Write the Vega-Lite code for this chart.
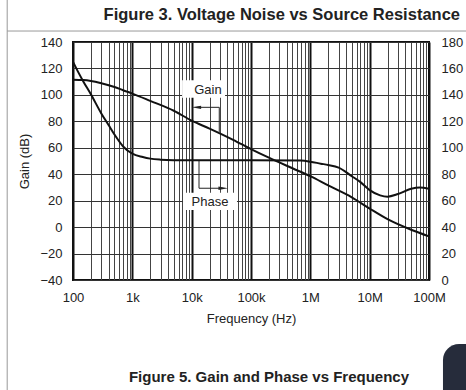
{
  "$schema": "https://vega.github.io/schema/vega-lite/v6.json",
  "width": 356,
  "height": 238,
  "autosize": "none",
  "padding": {"left": 73, "top": 42, "right": 37, "bottom": 110},
  "background": "white",
  "config": {
    "view": {"stroke": "#111", "strokeWidth": 2},
    "axis": {
      "labelFont": "Liberation Sans",
      "labelFontSize": 13,
      "labelColor": "#222",
      "titleFont": "Liberation Sans",
      "titleFontSize": 13,
      "titleFontWeight": "normal",
      "titleColor": "#222",
      "ticks": false,
      "domain": false,
      "gridColor": "#333",
      "gridOpacity": 1
    }
  },
  "datasets": {
    "gain": [
      {"f": 100, "v": 111.5}, {"f": 150, "v": 111.2}, {"f": 200, "v": 110.5},
      {"f": 300, "v": 108.8}, {"f": 500, "v": 106}, {"f": 700, "v": 103.5},
      {"f": 1000, "v": 101}, {"f": 2000, "v": 95.5}, {"f": 5000, "v": 88},
      {"f": 10000, "v": 80.5}, {"f": 20000, "v": 74.5}, {"f": 50000, "v": 66},
      {"f": 100000, "v": 59}, {"f": 200000, "v": 52.5}, {"f": 500000, "v": 44.5},
      {"f": 1000000, "v": 38.5}, {"f": 2000000, "v": 31.5}, {"f": 5000000, "v": 22.5},
      {"f": 10000000, "v": 14}, {"f": 20000000, "v": 6}, {"f": 50000000, "v": -2},
      {"f": 100000000, "v": -7}
    ],
    "phase": [
      {"f": 100, "p": 165}, {"f": 120, "p": 158}, {"f": 150, "p": 150},
      {"f": 200, "p": 140.5}, {"f": 300, "p": 126}, {"f": 400, "p": 117},
      {"f": 500, "p": 110}, {"f": 700, "p": 101}, {"f": 1000, "p": 95.5},
      {"f": 1500, "p": 93}, {"f": 2000, "p": 91.8}, {"f": 3000, "p": 91},
      {"f": 5000, "p": 90.6}, {"f": 10000, "p": 90.5}, {"f": 100000, "p": 90.5},
      {"f": 700000, "p": 90.3}, {"f": 1000000, "p": 89.5}, {"f": 1500000, "p": 88},
      {"f": 2000000, "p": 87}, {"f": 3000000, "p": 85}, {"f": 5000000, "p": 78.5},
      {"f": 7000000, "p": 74}, {"f": 10000000, "p": 68}, {"f": 15000000, "p": 64},
      {"f": 20000000, "p": 63}, {"f": 30000000, "p": 65}, {"f": 50000000, "p": 69},
      {"f": 70000000, "p": 70}, {"f": 100000000, "p": 69}
    ],
    "arrows": [
      {"arrow": "gain", "i": 1, "f": 29200, "v": 72},
      {"arrow": "gain", "i": 2, "f": 29200, "v": 90.6},
      {"arrow": "gain", "i": 3, "f": 12500, "v": 90.6},
      {"arrow": "phase", "i": 1, "f": 13300, "v": 50.5},
      {"arrow": "phase", "i": 2, "f": 13300, "v": 29.4},
      {"arrow": "phase", "i": 3, "f": 33000, "v": 29.4}
    ],
    "heads": [
      {"f": 12000, "v": 90.6, "dir": "left"},
      {"f": 34000, "v": 29.4, "dir": "right"}
    ],
    "boxes": [
      {"f": 6900, "f2": 36500, "v": 111, "v2": 97.8},
      {"f": 7150, "f2": 58000, "v": 25.9, "v2": 12.9}
    ],
    "labels": [
      {"f": 18800, "v": 104, "label": "Gain"},
      {"f": 20400, "v": 19.2, "label": "Phase"}
    ],
    "caption": [
      {"f": 201000, "v": -113.4, "label": "Figure 5. Gain and Phase vs Frequency"}
    ],
    "heading": [
      {"f": 333000000, "v": 160.4, "label": "Figure 3. Voltage Noise vs Source Resistance"}
    ],
    "frame": [
      {"f": 7.78, "f2": 7.78, "v": 171.8, "v2": -123.2},
      {"f": 7.78, "f2": 600000000, "v": 148.3, "v2": 148.3}
    ],
    "tab": [
      {"f": 172000000, "f2": 600000000, "v": -88.4, "v2": -130}
    ]
  },
  "layer": [
    {
      "encoding": {
        "x": {
          "field": "f",
          "type": "quantitative",
          "scale": {"type": "log", "domain": [100, 100000000], "nice": false},
          "axis": {
            "title": "Frequency (Hz)",
            "values": [100, 200, 300, 400, 500, 600, 700, 800, 900,
              1000, 2000, 3000, 4000, 5000, 6000, 7000, 8000, 9000,
              10000, 20000, 30000, 40000, 50000, 60000, 70000, 80000, 90000,
              100000, 200000, 300000, 400000, 500000, 600000, 700000, 800000, 900000,
              1000000, 2000000, 3000000, 4000000, 5000000, 6000000, 7000000, 8000000, 9000000,
              10000000, 20000000, 30000000, 40000000, 50000000, 60000000, 70000000, 80000000, 90000000,
              100000000],
            "labelExpr": "datum.value==100?'100':datum.value==1000?'1k':datum.value==10000?'10k':datum.value==100000?'100k':datum.value==1000000?'1M':datum.value==10000000?'10M':datum.value==100000000?'100M':''",
            "labelOverlap": false,
            "labelFlush": false,
            "labelPadding": 11,
            "titlePadding": 8,
            "grid": true,
            "gridWidth": {
              "condition": {"test": "indexof([100,1000,10000,100000,1000000,10000000,100000000], datum.value) >= 0", "value": 2},
              "value": 1
            },
            "gridColor": {
              "condition": {"test": "indexof([100,1000,10000,100000,1000000,10000000,100000000], datum.value) >= 0", "value": "#111"},
              "value": "#444"
            }
          }
        },
        "y": {
          "field": "v",
          "type": "quantitative",
          "scale": {"domain": [-40, 140], "nice": false, "zero": false},
          "axis": {
            "title": "Gain (dB)",
            "values": [-40, -20, 0, 20, 40, 60, 80, 100, 120, 140],
            "labelOverlap": false,
            "labelFlush": false,
            "grid": true,
            "gridWidth": 1,
            "labelPadding": 11,
            "titlePadding": 8
          }
        }
      },
      "layer": [
        {
          "data": {"name": "frame"},
          "mark": {"type": "rule", "color": "#999", "strokeWidth": 1},
          "encoding": {"x2": {"field": "f2"}, "y2": {"field": "v2"}}
        },
        {
          "data": {"name": "tab"},
          "mark": {"type": "rect", "color": "#262c3b", "cornerRadiusTopLeft": 20},
          "encoding": {"x2": {"field": "f2"}, "y2": {"field": "v2"}}
        },
        {
          "data": {"name": "gain"},
          "mark": {"type": "line", "color": "#111", "strokeWidth": 2, "interpolate": "monotone"},
          "encoding": {}
        },
        {
          "data": {"name": "boxes"},
          "mark": {"type": "rect", "color": "white"},
          "encoding": {"x2": {"field": "f2"}, "y2": {"field": "v2"}}
        },
        {
          "data": {"name": "labels"},
          "mark": {"type": "text", "font": "Liberation Sans", "fontSize": 13, "color": "#222", "align": "center", "baseline": "middle"},
          "encoding": {"text": {"field": "label"}}
        },
        {
          "data": {"name": "arrows"},
          "mark": {"type": "line", "color": "#222", "strokeWidth": 1},
          "encoding": {
            "detail": {"field": "arrow"},
            "order": {"field": "i"}
          }
        },
        {
          "data": {"name": "heads"},
          "mark": {"type": "point", "filled": true, "color": "#222", "opacity": 1, "size": 90},
          "encoding": {
            "shape": {
              "field": "dir",
              "scale": {"domain": ["left", "right"], "range": ["M -1 0 L 1 -0.35 L 1 0.35 Z", "M 1 0 L -1 -0.35 L -1 0.35 Z"]},
              "legend": null
            }
          }
        },
        {
          "data": {"name": "caption"},
          "mark": {"type": "text", "font": "Liberation Sans", "fontSize": 15, "fontWeight": "bold", "color": "#222", "align": "center", "baseline": "middle"},
          "encoding": {"text": {"field": "label"}}
        },
        {
          "data": {"name": "heading"},
          "mark": {"type": "text", "font": "Liberation Sans", "fontSize": 16.5, "fontWeight": "bold", "color": "#222", "align": "right", "baseline": "middle"},
          "encoding": {"text": {"field": "label"}}
        }
      ]
    },
    {
      "data": {"name": "phase"},
      "mark": {"type": "line", "color": "#111", "strokeWidth": 2, "interpolate": "monotone"},
      "encoding": {
        "x": {
          "field": "f",
          "type": "quantitative",
          "scale": {"type": "log", "domain": [100, 100000000], "nice": false},
          "axis": {
            "title": "Frequency (Hz)",
            "values": [100, 200, 300, 400, 500, 600, 700, 800, 900,
              1000, 2000, 3000, 4000, 5000, 6000, 7000, 8000, 9000,
              10000, 20000, 30000, 40000, 50000, 60000, 70000, 80000, 90000,
              100000, 200000, 300000, 400000, 500000, 600000, 700000, 800000, 900000,
              1000000, 2000000, 3000000, 4000000, 5000000, 6000000, 7000000, 8000000, 9000000,
              10000000, 20000000, 30000000, 40000000, 50000000, 60000000, 70000000, 80000000, 90000000,
              100000000],
            "labelExpr": "datum.value==100?'100':datum.value==1000?'1k':datum.value==10000?'10k':datum.value==100000?'100k':datum.value==1000000?'1M':datum.value==10000000?'10M':datum.value==100000000?'100M':''",
            "labelOverlap": false,
            "labelFlush": false,
            "labelPadding": 11,
            "titlePadding": 8,
            "grid": true,
            "gridWidth": {
              "condition": {"test": "indexof([100,1000,10000,100000,1000000,10000000,100000000], datum.value) >= 0", "value": 2},
              "value": 1
            },
            "gridColor": {
              "condition": {"test": "indexof([100,1000,10000,100000,1000000,10000000,100000000], datum.value) >= 0", "value": "#111"},
              "value": "#444"
            }
          }
        },
        "y": {
          "field": "p",
          "type": "quantitative",
          "scale": {"domain": [0, 180], "nice": false, "zero": false},
          "axis": {
            "orient": "right",
            "title": null,
            "values": [0, 20, 40, 60, 80, 100, 120, 140, 160, 180],
            "labelOverlap": false,
            "labelFlush": false,
            "grid": false,
            "labelPadding": 12
          }
        }
      }
    }
  ],
  "resolve": {"scale": {"y": "independent"}}
}
